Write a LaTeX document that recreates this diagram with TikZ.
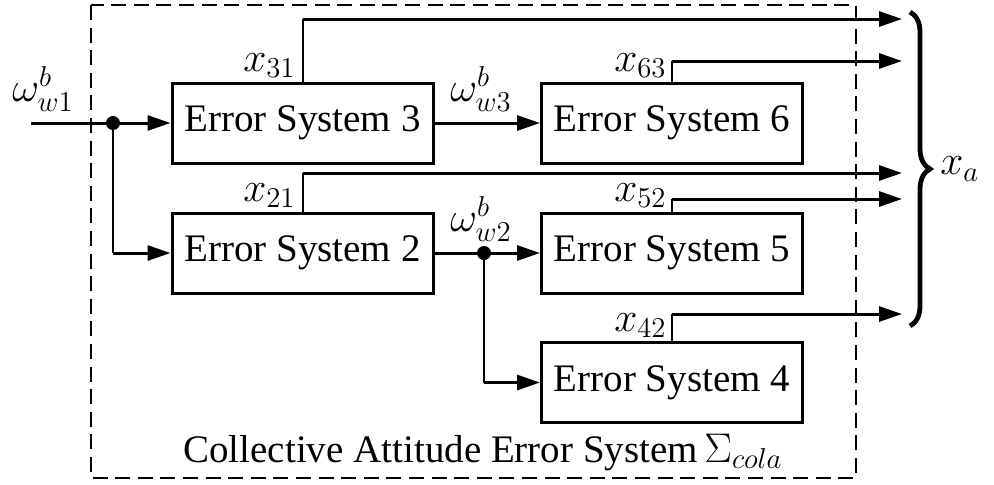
\documentclass[tikz,border=0pt]{standalone}
\usepackage[no-math]{fontspec}
\setmainfont{Liberation Serif}
\usetikzlibrary{arrows.meta,decorations.pathreplacing}
\begin{document}
\begin{tikzpicture}[x=0.5pt,y=-0.5pt,
  every node/.style={font=\fontsize{19.5}{23}\selectfont},
  blk/.style={draw,line width=1.5pt,minimum width=130.5pt,minimum height=40pt,inner sep=0pt},
  main/.style={line width=1.5pt},
  thinl/.style={line width=1pt},
  arr/.style={-{Triangle[length=11.5pt,width=7.5pt]}},
  lbl/.style={inner sep=0pt},
  mlbl/.style={inner sep=0pt,font=\fontsize{22}{26}\selectfont},
  frame/.style={line width=1.4pt,dash pattern=on 7.5pt off 3.8pt}]
\useasboundingbox (0,0) rectangle (994,484);
% frame
\draw[frame] (91,5) rectangle (856,478);
% blocks
\node[blk] (b3) at (302.5,123) {Error System 3};
\node[blk] (b6) at (672,123) {Error System 6};
\node[blk] (b2) at (302.5,253) {Error System 2};
\node[blk] (b5) at (672,253) {Error System 5};
\node[blk] (b4) at (672,382.5) {Error System 4};
% input
\coordinate (in) at (31,123);
\coordinate (d1) at (113,123);
\coordinate (d1b) at (113,253);
\draw[main] (in) -- (d1);
\fill (d1) circle (3.5pt);
\draw[main,arr] (d1) -- (b3.west);
\draw[thinl] (d1) -- (d1b);
\draw[main,arr] (d1b) -- (b2.west);
\node[mlbl,anchor=south] (lw1) at (43,112) {$\omega^b_{w1}$};
% between blocks
\draw[main,arr] (b3.east) -- (b6.west);
\node[mlbl,anchor=south] (lw3) at (481,112) {$\omega^b_{w3}$};
\coordinate (d2) at (484,253);
\coordinate (d2b) at (484,382.5);
\draw[main] (b2.east) -- (d2);
\fill (d2) circle (3.5pt);
\draw[main,arr] (d2) -- (b5.west);
\draw[thinl] (d2) -- (d2b);
\draw[main,arr] (d2b) -- (b4.west);
\node[mlbl,anchor=south] (lw2) at (481,242) {$\omega^b_{w2}$};
% outputs
\coordinate (c31) at (302.5,19);
\coordinate (o31) at (902,19);
\coordinate (c63) at (672,61);
\coordinate (o63) at (902,61);
\coordinate (c21) at (302.5,173);
\coordinate (o21) at (902,173);
\coordinate (c52) at (672,199);
\coordinate (o52) at (902,199);
\coordinate (c42) at (672,314);
\coordinate (o42) at (902,314);
\draw[thinl] (b3.north) -- (c31);
\draw[main,arr] (c31) -- (o31);
\draw[thinl] (b6.north) -- (c63);
\draw[main,arr] (c63) -- (o63);
\draw[thinl] (b2.north) -- (c21);
\draw[main,arr] (c21) -- (o21);
\draw[thinl] (b5.north) -- (c52);
\draw[main,arr] (c52) -- (o52);
\draw[thinl] (b4.north) -- (c42);
\draw[main,arr] (c42) -- (o42);
\node[mlbl,anchor=south east] (l31) at (296,78) {$x_{31}$};
\node[mlbl,anchor=south east] (l21) at (296,208) {$x_{21}$};
\node[mlbl,anchor=south east] (l63) at (667,78) {$x_{63}$};
\node[mlbl,anchor=south east] (l52) at (667,208) {$x_{52}$};
\node[mlbl,anchor=south east] (l42) at (667,338) {$x_{42}$};
% brace
\coordinate (bt) at (910,12);
\coordinate (bb) at (910,326);
\draw[line width=2.4pt,decorate,decoration={brace,amplitude=10pt}] (bt) -- (bb);
\node[mlbl,anchor=west] (xa) at (940,169) {$x_a$};
% title
\node[lbl,anchor=base] (title) at (483,462) {Collective Attitude Error System\,{\fontsize{22}{26}\selectfont$\Sigma_{cola}$}};
\end{tikzpicture}
\end{document}
